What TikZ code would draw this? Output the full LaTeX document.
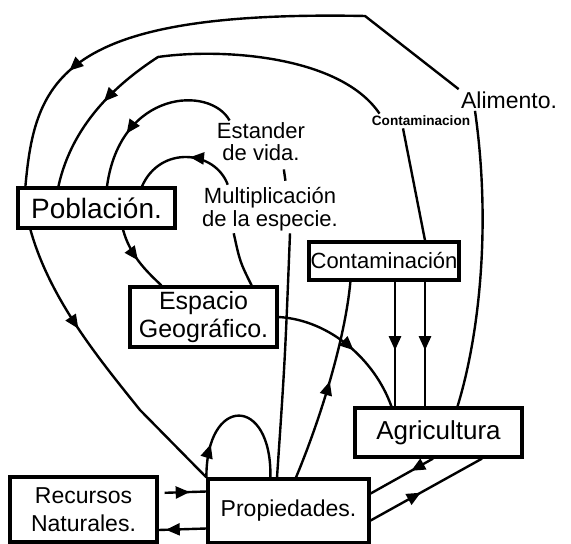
\documentclass[tikz,border=0pt]{standalone}
\usepackage{fontspec}
\setmainfont{Liberation Sans}
\usetikzlibrary{arrows.meta,decorations.markings,calc}
\tikzset{
  Pbox/.style={draw, line width=1.6pt, align=center, inner sep=0pt},
  Plabel/.style={align=center, inner sep=1pt},
  Pline/.style={line width=1.2pt},
  Marr/.style={postaction={decorate}, decoration={markings,
      mark=at position #1 with {\arrow{Triangle[length=7pt,width=6pt]}}}}
}
\begin{document}
\begin{tikzpicture}[x=0.5pt,y=-0.5pt]
  \useasboundingbox (0,0) rectangle (571,544);

  \node[Pbox, minimum width=78.5pt, minimum height=20pt, font=\fontsize{14}{16}\selectfont] (pob) at (96.5,208) {Población.};
  \node[Pbox, minimum width=73.5pt, minimum height=30pt, font=\fontsize{12.5}{14}\selectfont] (esp) at (203.5,317) {Espacio\\Geográfico.};
  \node[Pbox, minimum width=75pt, minimum height=19pt, font=\fontsize{11}{13}\selectfont] (cont) at (384,261) {Contaminación};
  \node[Pbox, minimum width=83.5pt, minimum height=24.5pt, font=\fontsize{13}{15}\selectfont] (agr) at (438.5,432.5) {Agricultura};
  \node[Pbox, minimum width=73.5pt, minimum height=32.5pt, font=\fontsize{11.5}{14}\selectfont] (rec) at (83.5,509.5) {Recursos\\Naturales.};
  \node[Pbox, minimum width=80.5pt, minimum height=32pt, font=\fontsize{11.5}{14}\selectfont] (prop) at (288.5,511) {Propiedades.};

  \node[Plabel, font=\fontsize{11.5}{13}\selectfont] (alim) at (509,100) {Alimento.};
  \node[Plabel, font=\bfseries\fontsize{6.8}{9}\selectfont] (contl) at (421,121) {Contaminacion};
  \node[Plabel, font=\fontsize{11}{11}\selectfont] (vida) at (261,142) {Estander\\de vida.};
  \node[Plabel, font=\fontsize{11}{11.5}\selectfont] (mult) at (270,209) {Multiplicación\\de la especie.};

  \draw[Pline, Marr=0.77] (alim.north west) -- (365,16) .. controls (60,10) and (35,80) .. ([xshift=4.5pt]pob.north west);
  \draw[Pline] ([xshift=-17pt]alim.south) .. controls (492,230) and (478,340) .. ([xshift=9.5pt]agr.north);
  \draw[Pline, Marr=0.76] ([xshift=5pt]contl.north west) .. controls (340,55) and (220,48) .. (158,57) .. controls (115,85) and (72,125) .. ([xshift=21pt]pob.north west);
  \draw[Pline] ([xshift=-9pt]contl.south) -- ([xshift=20.5pt]cont.north);
  \draw[Pline, Marr=0.68] ([xshift=7.5pt]vida.north west) .. controls (210,85) and (120,90) .. ([xshift=5.25pt]pob.north);
  \draw[Pline, Marr=0.45] ([xshift=14pt]mult.north west) .. controls (215,150) and (160,145) .. ([xshift=22.75pt]pob.north);
  \draw[Pline, shorten <=3pt, shorten >=2pt] ([xshift=11pt]vida.south) -- ([xshift=8pt]mult.north);
  \draw[Pline] ([xshift=17pt]mult.south west) .. controls (240,262) .. ([xshift=-13.5pt]esp.north east);
  \draw[Pline] ([xshift=10pt]mult.south) .. controls (285,360) .. ([xshift=-5.75pt]prop.north);

  \draw[Pline, Marr=0.5] ([xshift=13.25pt]pob.south) .. controls (130,255) and (145,270) .. ([xshift=16.5pt]esp.north west);
  \draw[Pline, Marr=0.36] ([xshift=7pt]pob.south west) .. controls (50,300) and (100,360) .. (140,410) -- (prop.north west);
  \draw[Pline, Marr=0.55] (esp.east) .. controls (330,320) and (375,360) .. ([xshift=19pt]agr.north west);
  \draw[Pline, Marr=0.5] ([xshift=3.75pt]prop.north) .. controls (320,420) and (345,340) .. ([xshift=21.5pt]cont.south west);
  \draw[Pline, Marr=0.55] ([xshift=5.5pt]cont.south) -- ([xshift=-21.75pt]agr.north);
  \draw[Pline, Marr=0.55] ([xshift=20.5pt]cont.south) -- ([xshift=-6.75pt]agr.north);
  \draw[Pline, Marr=0.22] (prop.north west) .. controls (206,395) and (272,395) .. ([xshift=32pt]prop.north west);

  \draw[Pline, Marr=0.65, shorten <=3pt] ([yshift=8.25pt]rec.east) -- ([yshift=9.75pt]prop.west);
  \draw[Pline, Marr=0.85] ([yshift=-8.75pt]prop.west) -- ([yshift=-10.25pt]rec.east);
  \draw[Pline, Marr=0.35] ([xshift=-2.75pt]agr.south) -- ([yshift=8.75pt]prop.east);
  \draw[Pline, Marr=0.45] ([yshift=-4.75pt]prop.east) -- ([xshift=21.75pt]agr.south);
\end{tikzpicture}
\end{document}
